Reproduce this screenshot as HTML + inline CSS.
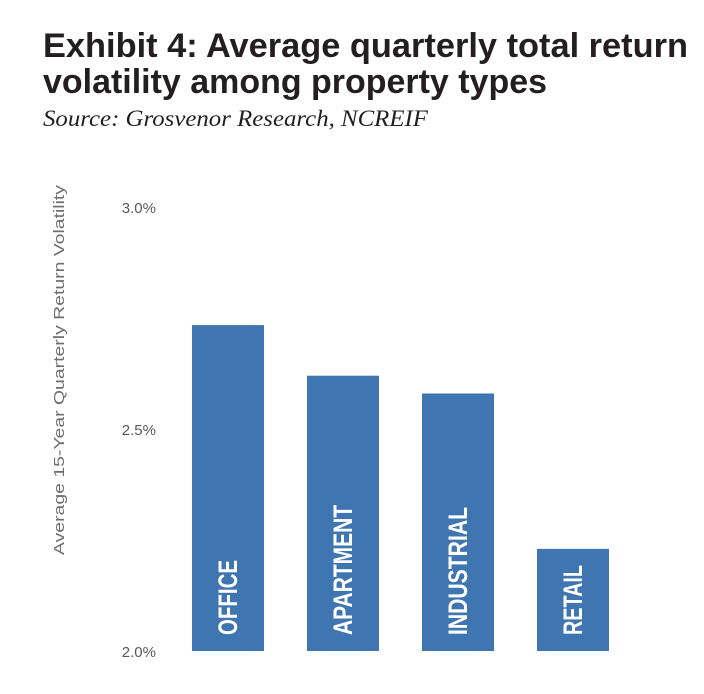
<!DOCTYPE html>
<html><head><meta charset="utf-8"><style>
html,body{margin:0;padding:0;background:#fff;}
svg{display:block;}
</style></head><body>
<svg width="704" height="694" viewBox="0 0 704 694" xmlns="http://www.w3.org/2000/svg">
<text x="43" y="57" font-family="Liberation Sans, sans-serif" font-weight="bold" font-size="34" fill="#231f20" textLength="645" lengthAdjust="spacingAndGlyphs">Exhibit 4: Average quarterly total return</text>
<text x="43" y="93" font-family="Liberation Sans, sans-serif" font-weight="bold" font-size="34" fill="#231f20" textLength="504" lengthAdjust="spacingAndGlyphs">volatility among property types</text>
<text x="43" y="126" font-family="Liberation Serif, serif" font-style="italic" font-size="23" fill="#231f20" textLength="385" lengthAdjust="spacingAndGlyphs">Source: Grosvenor Research, NCREIF</text>
<text transform="translate(64,370) rotate(-90)" text-anchor="middle" font-family="Liberation Sans, sans-serif" font-size="15" fill="#6d6e71" textLength="370" lengthAdjust="spacingAndGlyphs">Average 15-Year Quarterly Return Volatility</text>
<g id="ticks"></g>
<g id="bars"></g>
</svg>
<script>
const categories = ["OFFICE","APARTMENT","INDUSTRIAL","RETAIL"];
const values = [2.734, 2.62, 2.58, 2.23];
const tickValues = [2.0, 2.5, 3.0];
const tickLabels = ["2.0%","2.5%","3.0%"];
const labelLengths = [75, 130, 128, 70];

const NS = "http://www.w3.org/2000/svg";
const yMin = 2.0, yMax = 3.0, yBottom = 651, yTop = 207;
function y(v){ return yBottom - (v - yMin) / (yMax - yMin) * (yBottom - yTop); }
const xStart = 192, step = 115, barW = 72;
function x(i){ return xStart + i * step; }

const tg = document.getElementById('ticks');
tickValues.forEach((v, i) => {
  const t = document.createElementNS(NS, 'text');
  
  
  t.setAttribute('x', 156);
  t.setAttribute('y', y(v) + 6);
  t.setAttribute('text-anchor', 'end');
  t.setAttribute('font-family', 'Liberation Sans, sans-serif');
  t.setAttribute('font-size', '15');
  t.setAttribute('fill', '#58595b');
  t.textContent = tickLabels[i];
  tg.appendChild(t);
});

const bg = document.getElementById('bars');
categories.forEach((c, i) => {
  const r = document.createElementNS(NS, 'rect');
  
  
  r.setAttribute('x', x(i));
  r.setAttribute('y', y(values[i]));
  r.setAttribute('width', barW);
  r.setAttribute('height', yBottom - y(values[i]));
  r.setAttribute('fill', '#3f75b0');
  bg.appendChild(r);
  const t = document.createElementNS(NS, 'text');
  
  
  const cx = x(i) + barW / 2 - 1;
  t.setAttribute('transform', 'translate(' + (cx + 10) + ',635) rotate(-90)');
  t.setAttribute('font-family', 'Liberation Sans, sans-serif');
  t.setAttribute('font-weight', 'bold');
  t.setAttribute('font-size', '27');
  t.setAttribute('fill', '#ffffff');
  t.setAttribute('textLength', labelLengths[i]);
  t.setAttribute('lengthAdjust', 'spacingAndGlyphs');
  t.textContent = c;
  bg.appendChild(t);
});
</script>
</body></html>
